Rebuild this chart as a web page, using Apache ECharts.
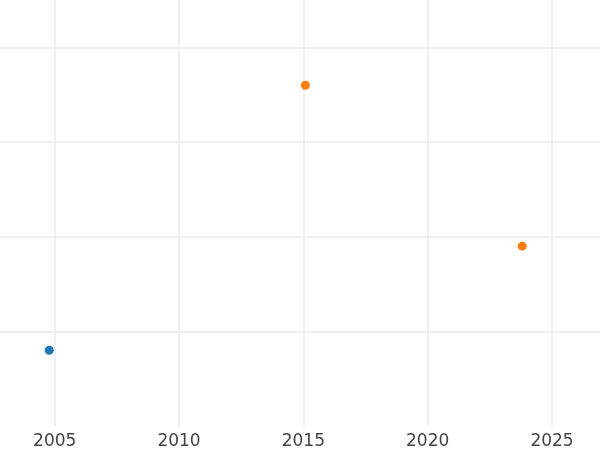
<!DOCTYPE html>
<html><head><meta charset="utf-8">
<script src="https://cdn.jsdelivr.net/npm/echarts@6/dist/echarts.min.js"></script>
<style>html,body{margin:0;padding:0;background:#fff}#c{width:600px;height:450px}</style>
</head><body><div id="c"></div>
<script>
const blueYears = [2004.78];
const blueValues = [0.80];
const orangeYears = [2015.08, 2023.80];
const orangeValues = [3.60, 1.90];
const xTickLabels = ['2005', '2010', '2015', '2020', '2025'];

const chart = echarts.init(document.getElementById('c'), null, {renderer: 'canvas'});
const gridColor = '#ebebeb';
chart.setOption({
  animation: false,
  backgroundColor: '#ffffff',
  grid: {left: 0, right: 0, top: 0, bottom: 23, containLabel: false},
  xAxis: {
    type: 'value', min: 2002.8, max: 2026.93, splitNumber: 5,
    axisLine: {show: false}, axisTick: {show: false},
    axisLabel: {
      showMinLabel: false, showMaxLabel: false, margin: 7,
      fontFamily: 'DejaVu Sans', fontSize: 17, color: '#444444',
      formatter: v => xTickLabels.includes(String(Math.round(v * 100) / 100)) ? String(Math.round(v)) : ''
    },
    splitLine: {show: true, showMinLine: false, showMaxLine: false, lineStyle: {color: gridColor, width: 1.5}}
  },
  yAxis: {
    type: 'value', min: 0, max: 4.5, interval: 1,
    axisLine: {show: false}, axisTick: {show: false}, axisLabel: {show: false},
    splitLine: {show: true, showMinLine: false, showMaxLine: false, lineStyle: {color: gridColor, width: 1.5}}
  },
  series: [
    {type: 'scatter', data: blueYears.map((x, i) => [x, blueValues[i]]), symbolSize: 9,
     itemStyle: {color: '#1f77b4', opacity: 1}},
    {type: 'scatter', data: orangeYears.map((x, i) => [x, orangeValues[i]]), symbolSize: 9,
     itemStyle: {color: '#ff7f0e', opacity: 1}}
  ]
});
</script></body></html>
